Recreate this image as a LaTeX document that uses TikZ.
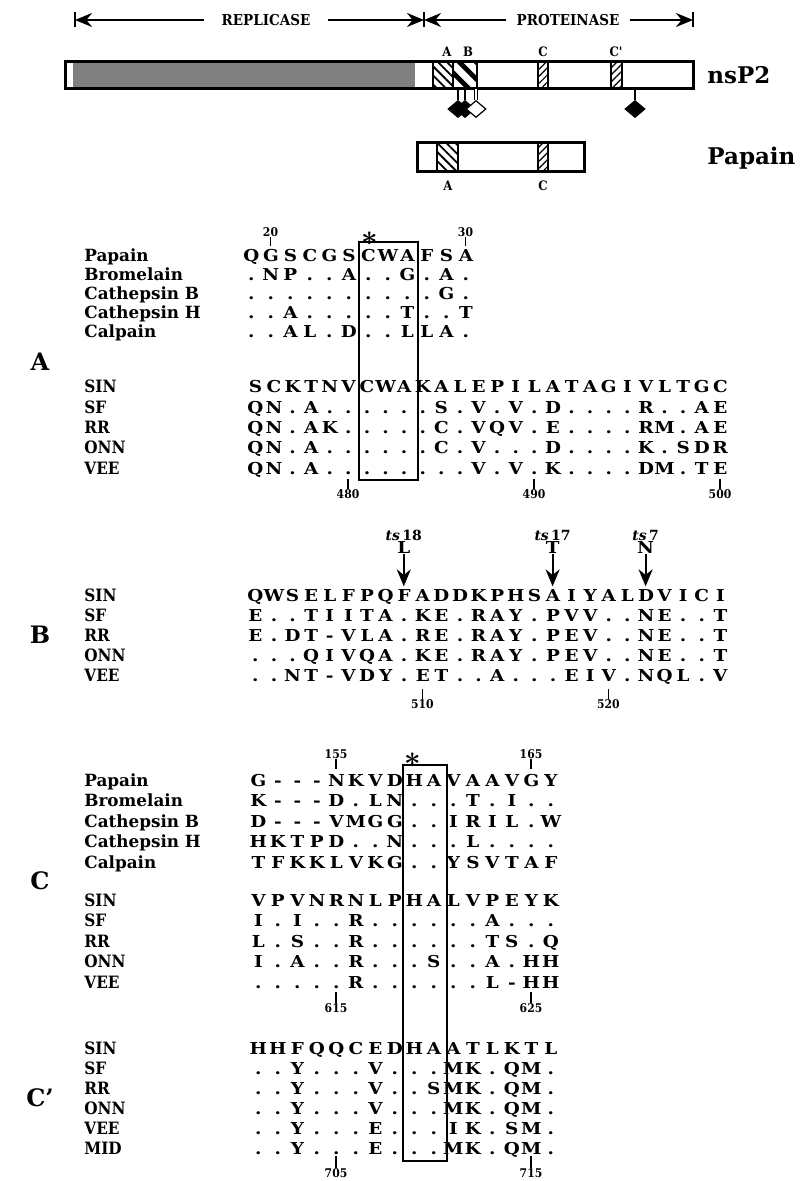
\documentclass[tikz,border=0pt]{standalone}
\usepackage{fontspec}
\setmainfont{DejaVu Serif}
\newfontfamily\condf{DejaVu Serif Condensed}
\newfontfamily\widef{DejaVu Serif}[FakeStretch=1.12]
\usepackage{tikz}
\usetikzlibrary{arrows.meta,positioning,shapes.geometric,patterns.meta}

\makeatletter
\newlength\colw
% o stands for an identical residue (a dot)
\def\resrow#1{\edef\res@w{#1}\expandafter\res@row\expandafter{\res@w}}
\def\res@row#1{\@tfor\res@c:=#1\do{\makebox[\colw][c]{\if o\res@c .\else\res@c\fi}}}
\makeatother

\begin{document}
\begin{tikzpicture}[x=0.5pt,y=-0.5pt,>={Stealth[length=8.5pt,width=7pt,inset=2.8pt]},
  res/.style={anchor=base west,inner sep=0pt,font=\widef\bfseries\fontsize{8.2}{8.2}\selectfont},
  colA/.style={res,execute at begin node=\setlength\colw{9.3pt}},
  colP/.style={res,execute at begin node=\setlength\colw{9.75pt}},
  prot/.style={anchor=base west,inner sep=0pt,font=\bfseries\fontsize{8.4}{8.4}\selectfont},
  virus/.style={anchor=base west,inner sep=0pt,font=\condf\bfseries\fontsize{8.5}{8.5}\selectfont},
  sec/.style={inner sep=0pt,font=\bfseries\fontsize{12}{12}\selectfont},
  num/.style={inner sep=0pt,font=\condf\bfseries\fontsize{6}{6}\selectfont},
  dom/.style={inner sep=0pt,font=\condf\bfseries\fontsize{6.5}{6.5}\selectfont},
  big/.style={anchor=base west,inner sep=0pt,font=\bfseries\fontsize{11.5}{11.5}\selectfont},
  scl/.style={inner ysep=0pt,font=\condf\bfseries\fontsize{7.5}{7.5}\selectfont},
  bar/.style={line width=1.5pt},
  tk/.style={line width=0.6pt},
  hatA/.style={line width=1pt,pattern={Lines[angle=-45,distance=3.2pt,line width=0.9pt]}},
  hatB/.style={line width=1pt,pattern={Lines[angle=-45,distance=6pt,line width=2.4pt]}},
  hatC/.style={line width=1pt,pattern={Lines[angle=45,distance=2.5pt,line width=0.6pt]}},
  diam/.style={diamond,draw,line width=0.6pt,inner sep=0pt,minimum width=10pt,minimum height=8.5pt},
  astk/.style={inner sep=0pt,font=\boldmath\fontsize{14}{14}\selectfont}]
\useasboundingbox (0,0) rectangle (801,1181);
% domain scale
\coordinate (rl) at (75,20); \coordinate (rm) at (424,20); \coordinate (rr) at (693,20);
\node[scl,inner xsep=8.5pt] (rep) at (266,20) {REPLICASE};
\node[scl,inner xsep=5pt] (pro) at (568,20) {PROTEINASE};
\draw[->,line width=1.1pt] (rep) -- (rl);
\draw[->,line width=1.1pt] (rep) -- (rm);
\draw[->,line width=1.1pt] (pro) -- (rm);
\draw[->,line width=1.1pt] (pro) -- (rr);
\foreach \c in {rl,rm,rr} \draw[line width=1pt] (\c) ++(0,-7.5) -- ++(0,15);
% nsP2 and papain bars
\fill[black!50] (73,63.5) rectangle (415,87.5);
\draw[hatA] (433,62) rectangle (453,89);
\draw[hatB] (453,62) rectangle (477,89);
\draw[hatC] (538,62) rectangle (548,89);
\draw[hatC] (611,62) rectangle (622,89);
\draw[bar] (65,62) rectangle (693,89);
\draw[hatA] (437,143) rectangle (458,172);
\draw[hatC] (538,143) rectangle (548,172);
\draw[bar] (417,143) rectangle (584,172);
\coordinate (bb) at (0,89);
\node[diam,fill=black] (dm1) at (458,109) {};
\node[diam,fill=black] (dm2) at (465,109) {};
\node[diam,fill=white] (dm3) at (476,109) {};
\node[diam,fill=black] (dm4) at (635,109) {};
\foreach \d in {dm1,dm2,dm4} \draw[line width=1pt] (\d.north) -- (\d.north |- bb);
\draw[double,line width=0.5pt,double distance=1.2pt] (dm3.north) -- (dm3.north |- bb);
\node[dom] (lA) at (447,52) {A};
\node[dom] (lB) at (468,52) {B};
\node[dom] (lC) at (543,52) {C};
\node[dom] (lC2) at (616,52) {C'};
\node[dom] (pA) at (448,186) {A};
\node[dom] (pC) at (543,186) {C};
\node[big] (lnsp) at (707,83.5) {nsP2};
\node[big] (lpap) at (707,164.5) {Papain};
% region A
\draw[line width=1pt] (359,242) rectangle (418,480);
\node[astk] (stA) at (370,239) {$\ast$};
\foreach \p/\s [count=\i] in {Papain/QGSCGSCWAFSA,Bromelain/oNPooAooGoAo,Cathepsin B/ooooooooooGo,
  Cathepsin H/ooAoooooTooT,Calpain/ooALoDooLLAo}{
  \node[prot] (aP\i) at (84,{243+\i*19}) {\p};
  \node[colP] (aR\i) at (241.25,{243+\i*19}) {\resrow{\s}};}
\foreach \p/\s [count=\i] in {SIN/SCKTNVCWAKALEPILATAGIVLTGC,SF/QNoAooooooSoVoVoDooooRooAE,
  RR/QNoAKoooooCoVQVoEooooRMoAE,ONN/QNoAooooooCoVoooDooooKoSDR,VEE/QNoAooooooooVoVoKooooDMoTE}{
  \node[virus] (aS\i) at (84,{372.7+\i*20.3}) {\p};
  \node[colA] (aT\i) at (245.7,{372.7+\i*20.3}) {\resrow{\s}};}
\foreach \t/\x in {20/270.5,30/465.5}{
  \node[num] (t\t) at (\x,232) {\t};
  \draw[tk] (t\t.south) -- ++(0,9);}
\foreach \t/\x in {480/348,490/534,500/720}{
  \node[num] (t\t) at (\x,494) {\t};
  \draw[tk] (t\t.north) -- ++(0,-10);}
\node[sec] (secA) at (40,362) {A};
% region B
\foreach \t/\m/\x in {18/L/403.8,17/T/552.6,7/N/645.6}{
  \node[dom,font=\bfseries\fontsize{7}{7}\selectfont] (ts\t) at (\x,535) {\textit{ts}\,\t};
  \node[res,anchor=center] (mu\t) at (\x,548) {\m};
  \draw[->,line width=1pt] (mu\t.south) -- ++(0,32);}
\foreach \p/\s [count=\i] in {SIN/QWSELFPQFADDKPHSAIYALDVICI,SF/EooTIITAoKEoRAYoPVVooNEooT,
  RR/EoDT-VLAoREoRAYoPEVooNEooT,ONN/oooQIVQAoKEoRAYoPEVooNEooT,VEE/ooNT-VDYoETooAoooEIVoNQLoV}{
  \node[virus] (bS\i) at (84,{581+\i*20}) {\p};
  \node[colA] (bT\i) at (245.7,{581+\i*20}) {\resrow{\s}};}
\foreach \t/\x in {510/422.4,520/608.4}{
  \node[num] (t\t) at (\x,704) {\t};
  \draw[tk] (t\t.north) -- ++(0,-10);}
\node[sec] (secB) at (40,635) {B};
% regions C and C'
\draw[line width=1pt] (403,765) rectangle (447,1161);
\node[astk] (stC) at (413,760) {$\ast$};
\foreach \p/\s [count=\i] in {Papain/G---NKVDHAVAAVGY,Bromelain/K---DoLNoooToIoo,Cathepsin B/D---VMGGooIRILoW,
  Cathepsin H/HKTPDooNoooLoooo,Calpain/TFKKLVKGooYSVTAF}{
  \node[prot] (cP\i) at (84,{765.5+\i*20.5}) {\p};
  \node[colP] (cR\i) at (248.25,{765.5+\i*20.5}) {\resrow{\s}};}
\foreach \p/\s [count=\i] in {SIN/VPVNRNLPHALVPEYK,SF/IoIooRooooooAooo,RR/LoSooRooooooTSoQ,
  ONN/IoAooRoooSooAoHH,VEE/oooooRooooooL-HH}{
  \node[virus] (cS\i) at (84,{885.5+\i*20.5}) {\p};
  \node[colP] (cT\i) at (248.25,{885.5+\i*20.5}) {\resrow{\s}};}
\foreach \t/\x in {155/336,165/531}{
  \node[num] (t\t) at (\x,754) {\t};
  \draw[tk] (t\t.south) -- ++(0,10);}
\foreach \t/\x in {615/336,625/531}{
  \node[num] (t\t) at (\x,1008) {\t};
  \draw[tk] (t\t.north) -- ++(0,-11);}
\node[sec] (secC) at (40,881) {C};
\foreach \p/\s [count=\i] in {SIN/HHFQQCEDHAATLKTL,SF/ooYoooVoooMKoQMo,RR/ooYoooVooSMKoQMo,
  ONN/ooYoooVoooMKoQMo,VEE/ooYoooEoooIKoSMo,MID/ooYoooEoooMKoQMo}{
  \node[virus] (dS\i) at (84,{1034+\i*20}) {\p};
  \node[colP] (dT\i) at (248.25,{1034+\i*20}) {\resrow{\s}};}
\foreach \t/\x in {705/336,715/531}{
  \node[num] (t\t) at (\x,1173) {\t};
  \draw[tk] (t\t.north) -- ++(0,-12);}
\node[sec] (secD) at (40,1098) {C'};
\end{tikzpicture}
\end{document}
